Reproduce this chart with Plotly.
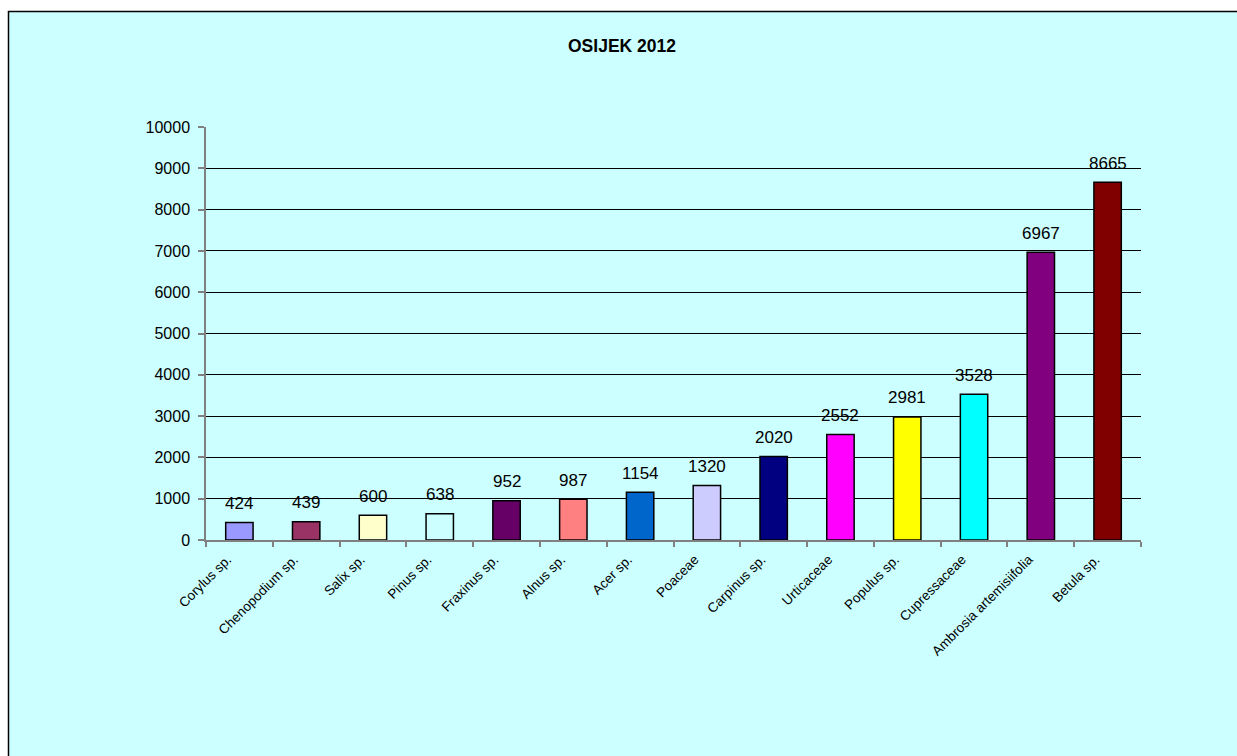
import plotly.graph_objects as go

categories = ["Corylus sp.", "Chenopodium sp.", "Salix sp.", "Pinus sp.", "Fraxinus sp.",
              "Alnus sp.", "Acer sp.", "Poaceae", "Carpinus sp.", "Urticaceae",
              "Populus sp.", "Cupressaceae", "Ambrosia artemisiifolia", "Betula sp."]
values = [424, 439, 600, 638, 952, 987, 1154, 1320, 2020, 2552, 2981, 3528, 6967, 8665]
colors = ["#9999FF", "#993366", "#FFFFCC", "#CCFFFF", "#660066", "#FF8080", "#0066CC",
          "#CCCCFF", "#000080", "#FF00FF", "#FFFF00", "#00FFFF", "#800080", "#800000"]
y_ticks = list(range(0, 10001, 1000))

W, H = 1237, 756
L, R, T, B = 206, 1141, 127, 540
pw, ph = R - L, B - T
FONT = "Arial, Liberation Sans, sans-serif"

def px_x(p):
    return (p - L) / pw

def px_y(p):
    return (B - p) / ph

n = len(categories)
idx = list(range(n))

fig = go.Figure()
fig.add_trace(go.Bar(
    x=idx, y=values,
    marker=dict(color=colors, line=dict(color="#000000", width=1.5)),
    width=0.41,
))

for i, v in zip(idx, values):
    fig.add_annotation(x=i, y=v, text=str(v), showarrow=False, yanchor="middle",
                       yshift=19, font=dict(family=FONT, size=17, color="#000000"))

fig.add_shape(type="rect", xref="paper", yref="paper",
              x0=px_x(8.5), x1=px_x(1270), y0=px_y(11.5), y1=px_y(790),
              line=dict(color="#000000", width=1.5), fillcolor="#CCFFFF", layer="below")

fig.update_layout(
    width=W, height=H,
    margin=dict(l=L, r=W - R, t=T, b=H - B),
    paper_bgcolor="#FFFFFF", plot_bgcolor="rgba(0,0,0,0)",
    showlegend=False,
    font=dict(family=FONT, color="#000000"),
    title=dict(text="<b>OSIJEK 2012</b>", xref="container", x=622 / W, xanchor="center",
               yref="container", y=1 - 46 / H, yanchor="middle",
               font=dict(size=17.5, family=FONT)),
)
fig.update_layout(
    xaxis=dict(
        range=[-0.5, n - 0.5], tickvals=[i - 0.5 for i in range(n + 1)],
        showticklabels=False,
        showline=True, linecolor="#808080", linewidth=1.5,
        ticks="outside", ticklen=5, tickcolor="#808080", tickwidth=1.5,
        showgrid=False, zeroline=False,
    ),
    xaxis2=dict(
        overlaying="x", side="bottom", anchor="y",
        range=[-0.5 + 0.18, n - 0.5 + 0.18], tickvals=idx, ticktext=categories,
        tickangle=-45, tickfont=dict(size=13.5, family=FONT, color="#000000"),
        ticklabelstandoff=8,
        showline=False, ticks="", showgrid=False, zeroline=False,
    ),
    yaxis=dict(
        range=[0, 10000], tickvals=y_ticks, ticktext=[str(t) for t in y_ticks],
        tickfont=dict(size=16, family=FONT, color="#000000"),
        ticklabelstandoff=5,
        showline=True, linecolor="#808080", linewidth=1.5,
        ticks="outside", ticklen=6, tickcolor="#808080", tickwidth=1.5,
        showgrid=True, gridcolor="#000000", gridwidth=1, zeroline=False,
    ),
)
# invisible trace so the label axis is drawn
fig.add_trace(go.Scatter(x=idx, y=[0] * n, xaxis="x2", mode="markers",
                         marker=dict(opacity=0), hoverinfo="skip"))

fig.write_html("out.html", config={"displayModeBar": False},
               post_script="document.body.style.margin='0';document.body.style.overflow='hidden';")
